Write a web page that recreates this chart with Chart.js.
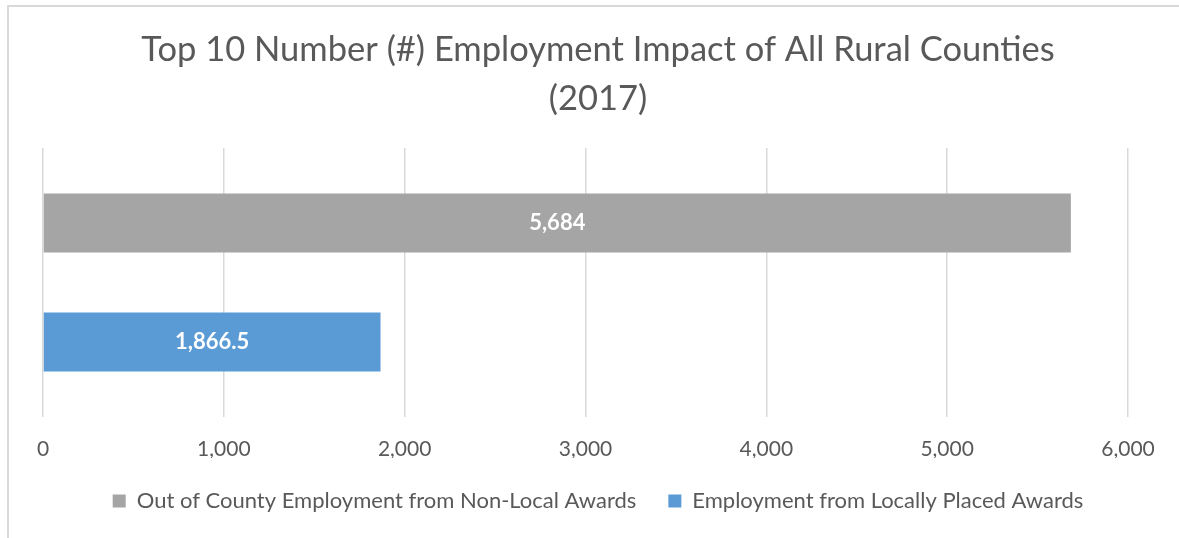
<!DOCTYPE html>
<html>
<head>
<meta charset="utf-8">
<script src="https://cdn.jsdelivr.net/npm/chart.js@4"></script>
<style>
  html, body { margin: 0; padding: 0; background: #fff; }
  #frame { position: absolute; left: 7px; top: 5px; width: 1300px; height: 700px;
           border-left: 2px solid #d9d9d9; border-top: 2px solid #d9d9d9; }
  #employmentChart { position: absolute; left: 0; top: 0; }
</style>
</head>
<body>
<div id="frame"></div>
<canvas id="employmentChart" width="1179" height="538"></canvas>
<script>
"use strict";

const categories = [""];
const seriesNames = [
  "Out of County Employment from Non-Local Awards",
  "Employment from Locally Placed Awards"
];
const outOfCounty = [5684];
const locallyPlaced = [1866.5];
const tickValues = [0, 1000, 2000, 3000, 4000, 5000, 6000];

const fontFamily = "Lato, 'Open Sans', sans-serif";
const textGrey = "#595959";

// white value labels in the middle of each bar
const barValueLabels = {
  id: "barValueLabels",
  afterDatasetsDraw(chart) {
    const ctx = chart.ctx;
    ctx.save();
    ctx.font = "bold 22px " + fontFamily;
    ctx.fillStyle = "#ffffff";
    ctx.textAlign = "center";
    ctx.textBaseline = "middle";
    chart.data.datasets.forEach((ds, i) => {
      chart.getDatasetMeta(i).data.forEach((bar, j) => {
        const v = ds.data[j];
        ctx.fillText(v.toLocaleString("en-US"), (bar.base + bar.x) / 2, bar.y);
      });
    });
    ctx.restore();
  }
};

// empty side axes, only there to reserve room left and right of the plot
const spacerAxis = (position, width) => ({
  type: "category",
  position: position,
  grid: { display: false },
  border: { display: false },
  ticks: { display: false },
  afterFit: axis => { axis.width = width; }
});

var ctxB = document.getElementById("employmentChart").getContext("2d");
var employmentChart = new Chart(ctxB, {
  type: "bar",
  data: {
    labels: categories,
    datasets: [
      {
        label: seriesNames[0],
        data: outOfCounty,
        backgroundColor: "#a5a5a5",
        categoryPercentage: 0.885,
        barPercentage: 0.496
      },
      {
        label: seriesNames[1],
        data: locallyPlaced,
        backgroundColor: "#5b9bd5",
        categoryPercentage: 0.885,
        barPercentage: 0.496
      }
    ]
  },
  options: {
    indexAxis: "y",
    responsive: false,
    animation: false,
    layout: { padding: { top: 0, left: 17, right: 0, bottom: 16 } },
    scales: {
      x: {
        min: 0,
        max: 6000,
        afterBuildTicks: axis => { axis.ticks = tickValues.map(v => ({ value: v })); },
        afterFit: axis => { axis.height = 41; },
        grid: { color: "#d9d9d9", lineWidth: 1.5, drawTicks: false },
        border: { display: false },
        ticks: {
          padding: 21.5,
          color: textGrey,
          font: { family: fontFamily, size: 21, lineHeight: 1 },
          callback: v => v.toLocaleString("en-US")
        }
      },
      y: spacerAxis("left", 26),
      yRight: spacerAxis("right", 51)
    },
    plugins: {
      title: {
        display: true,
        text: ["Top 10 Number (#) Employment Impact of All Rural Counties", "(2017)"],
        color: textGrey,
        font: { family: fontFamily, size: 34.5, weight: "normal", lineHeight: 1.4 },
        padding: { top: 26, bottom: 25.4 }
      },
      legend: {
        position: "bottom",
        labels: {
          color: textGrey,
          font: { family: fontFamily, size: 22 },
          boxWidth: 13,
          boxHeight: 13,
          padding: 32
        }
      },
      tooltip: { enabled: false }
    }
  },
  plugins: [barValueLabels]
});
</script>
</body>
</html>
